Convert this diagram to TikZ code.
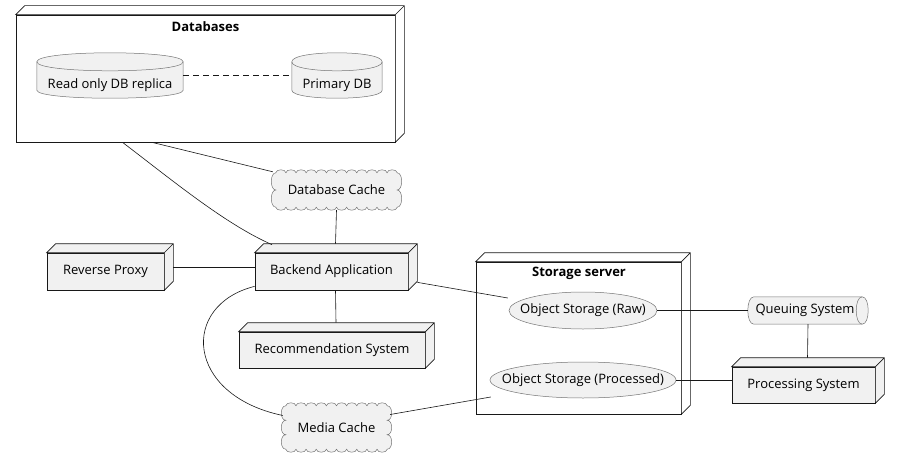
\documentclass[tikz,border=0pt]{standalone}
\usepackage{fontspec}
\setmainfont{Open Sans}
\usetikzlibrary{calc, shapes.geometric}
\definecolor{umlfill}{HTML}{F1F1F1}
\definecolor{umlline}{HTML}{181818}
\tikzstyle{nodebox}=[draw=umlline,fill=umlfill,inner sep=0pt,line width=0.7pt,font=\fontsize{13}{15}\selectfont]
\tikzstyle{outer}=[nodebox,fill=white]
\tikzstyle{ttl}=[font=\fontsize{13}{15}\selectfont\bfseries]
\tikzstyle{lbl}=[font=\fontsize{13}{15}\selectfont]
\tikzstyle{spot}=[inner sep=0pt]
\tikzstyle{thinline}=[draw=umlline!60,fill=umlfill,line width=0.5pt]
\tikzstyle{usec}=[nodebox,ellipse,draw=umlline!60,line width=0.5pt]
\tikzstyle{link}=[umlline,line width=0.6pt]

\begin{document}
\begin{tikzpicture}[x=1pt,y=-1pt]
\useasboundingbox (0,0) rectangle (899,460);
% outer nodes
\node[outer,minimum width=379,minimum height=127] (dbs) at (205.5,78.5) {};
\node[outer,minimum width=205,minimum height=152] (storage) at (578.5,338) {};
% devices
\node[nodebox,minimum width=117,minimum height=37] (proxy) at (105.5,271.5) {Reverse Proxy};
\node[nodebox,minimum width=153,minimum height=37] (backend) at (331.5,271.5) {Backend Application};
\node[nodebox,minimum width=186,minimum height=36] (recsys) at (332,350) {Recommendation System};
\node[nodebox,minimum width=143,minimum height=36] (procsys) at (803.5,385) {Processing System};
\foreach \n/\c in {dbs/white,storage/white,proxy/umlfill,backend/umlfill,recsys/umlfill,procsys/umlfill}
  \draw[nodebox,fill=\c] (\n.north west) -- ++(9,-9) -- ([shift={(9,-9)}]\n.north east)
    -- ([shift={(9,-9)}]\n.south east) -- (\n.south east) -- (\n.north east) -- cycle
    (\n.north east) -- ++(9,-9);
\node[ttl] (dbstitle) at (205.5,27) {Databases};
\node[ttl] (stitle) at (579,273) {Storage server};
% databases
\node[spot,minimum width=146,minimum height=45] (replica) at (110,75.5) {};
\node[spot,minimum width=90,minimum height=45] (primary) at (337,75.5) {};
\foreach \n in {replica,primary}{
  \draw[thinline] ([shift={(0,9)}]\n.north west) -- ([shift={(0,-8)}]\n.south west)
    .. controls ([shift={(0,2.7)}]\n.south west) and ([shift={(0,2.7)}]\n.south east) .. ([shift={(0,-8)}]\n.south east)
    -- ([shift={(0,9)}]\n.north east)
    .. controls ([shift={(0,-3)}]\n.north east) and ([shift={(0,-3)}]\n.north west) .. cycle;
  \draw[thinline,fill=none] ([shift={(0,9)}]\n.north west)
    .. controls ([shift={(0,21)}]\n.north west) and ([shift={(0,21)}]\n.north east) .. ([shift={(0,9)}]\n.north east);
}
\node[lbl] (replicatxt) at ([shift={(0,9.5)}]replica.center) {Read only DB replica};
\node[lbl] (primarytxt) at ([shift={(0,9.5)}]primary.center) {Primary DB};
% queue
\node[spot,minimum width=120,minimum height=27] (queue) at (808,310.5) {};
\draw[thinline] ([xshift=6]queue.north west) -- ([xshift=-6]queue.north east)
  .. controls ([xshift=2]queue.north east) and ([xshift=2]queue.south east) .. ([xshift=-6]queue.south east)
  -- ([xshift=6]queue.south west)
  .. controls ([xshift=-2]queue.south west) and ([xshift=-2]queue.north west) .. cycle;
\draw[thinline,fill=none] ([xshift=-6]queue.north east)
  .. controls ([xshift=-14]queue.north east) and ([xshift=-14]queue.south east) .. ([xshift=-6]queue.south east);
\node[lbl] (queuetxt) at ([xshift=-3]queue.center) {Queuing System};
% clouds
\node[spot,minimum width=121,minimum height=34] (dbcache) at (336.5,190) {};
\node[spot,minimum width=101,minimum height=43] (mcache) at (336.5,427.5) {};
\foreach \n/\k/\m in {dbcache/12/2,mcache/10/3}
  \draw[thinline] (\n.north west)
    \foreach \i in {1,...,\k} { .. controls +(0,-4) and +(0,-4) .. ($(\n.north west)!\i/\k!(\n.north east)$) }
    \foreach \i in {1,...,\m} { .. controls +(6,0) and +(6,0) .. ($(\n.north east)!\i/\m!(\n.south east)$) }
    \foreach \i in {1,...,\k} { .. controls +(0,4) and +(0,4) .. ($(\n.south east)!\i/\k!(\n.south west)$) }
    \foreach \i in {1,...,\m} { .. controls +(-6,0) and +(-6,0) .. ($(\n.south west)!\i/\m!(\n.north west)$) }
    -- cycle;
\node[lbl] (dbcachetxt) at (dbcache.center) {Database Cache};
\node[lbl] (mcachetxt) at (mcache.center) {Media Cache};
% object storages
\node[usec,minimum width=148,minimum height=37] (raw) at (583,310.5) {};
\node[usec,minimum width=186,minimum height=36] (processed) at (583,380) {};
\node[lbl] (rawtxt) at (raw.center) {Object Storage (Raw)};
\node[lbl] (proctxt) at (processed.center) {Object Storage (Processed)};
% links
\draw[link,dash pattern=on 6pt off 4pt] (replica.east) -- (primary.west);
\draw[link] ([xshift=-53.5]dbs.south) -- ([shift={(-3,-1)}]dbcache.north west);
\draw[link] ([xshift=-83]dbs.south) .. controls (172,180) and (225,224) .. ([shift={(-59.5,-8)}]backend.north);
\draw[link] ([shift={(0,3)}]dbcache.south) -- ([shift={(4,-9)}]backend.north);
\draw[link] ([shift={(9,-4)}]proxy.east) -- ([shift={(0,-4)}]backend.west);
\draw[link] ([shift={(4,0)}]backend.south) -- ([shift={(4,-9)}]recsys.north);
\draw[link] ([shift={(9,-8)}]backend.south east) -- ([shift={(-1,-12.5)}]raw.west);
\draw[link] ([shift={(0,-4)}]backend.south west) .. controls (180,305) and (185,395) .. ([shift={(-3,-12)}]mcache.west);
\draw[link] ([shift={(3,-13)}]mcache.east) -- ([shift={(1,17)}]processed.west);
\draw[link] (raw.east) -- (queue.west);
\draw[link] (queue.south) -- ([shift={(4,-9)}]procsys.north);
\draw[link] (processed.east) -- (processed.east -| procsys.west);
\end{tikzpicture}
\end{document}
